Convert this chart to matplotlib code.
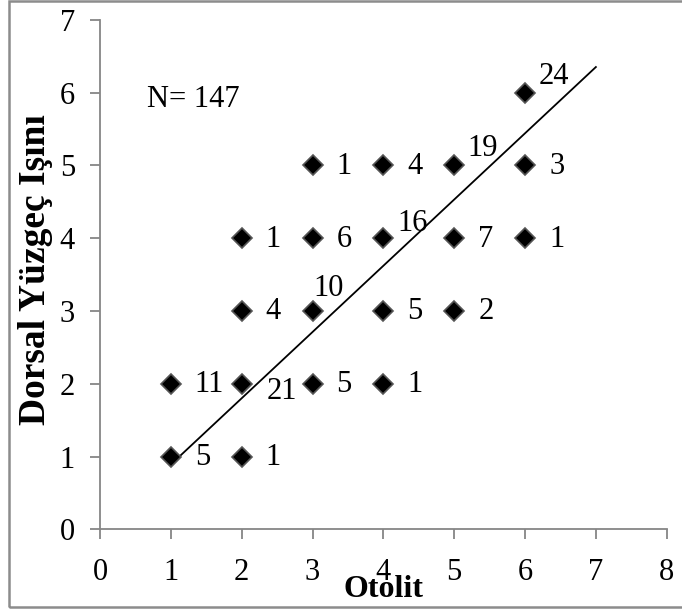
import numpy as np
import matplotlib
matplotlib.use("Agg")
import matplotlib.pyplot as plt
from matplotlib.patches import Rectangle

plt.rcParams['font.family'] = ['Liberation Serif', 'DejaVu Serif']

# otolith age vs dorsal fin ray counts, with number of fish per cell
otolit = [1, 2, 1, 2, 3, 4, 2, 3, 4, 5, 2, 3, 4, 5, 6, 3, 4, 5, 6, 6]
dorsal = [1, 1, 2, 2, 2, 2, 3, 3, 3, 3, 4, 4, 4, 4, 4, 5, 5, 5, 5, 6]
counts = [5, 1, 11, 21, 5, 1, 4, 10, 5, 2, 1, 6, 16, 7, 1, 1, 4, 19, 3, 24]
n_total = 147

# linear trend line
trend_slope = 0.91
trend_intercept = -0.02
trend_x = [1, 7]

# label offsets (pixels) for the counts that sit above/below the default spot
label_shift = {3: (25, -8), 7: (1, 22), 12: (14, 15), 17: (13, 17), 19: (14, 16)}

GRAY = '#868686'

fig = plt.figure(figsize=(6.82, 6.12), dpi=100)
ax = fig.add_axes([0.1466, 0.1351, 0.831, 0.8327])

tx = np.array(trend_x, dtype=float)
ax.plot(tx, trend_slope * tx + trend_intercept, color='black', lw=1.3, zorder=2)

ax.plot(otolit, dorsal, linestyle='none', marker='D', markersize=10,
        markerfacecolor='black', markeredgecolor='#555555', markeredgewidth=1.2,
        zorder=3)

for i, (x, y, c) in enumerate(zip(otolit, dorsal, counts)):
    dx, dy = label_shift.get(i, (24, -1))
    ax.annotate(str(c), (x, y), xytext=(dx, dy), textcoords='offset pixels',
                ha='left', va='center', fontsize=22, zorder=4)

ax.text(0.66, 5.9, 'N= %d' % n_total, ha='left', va='center', fontsize=22)

ax.set_xlim(0, 8)
ax.set_ylim(0, 7)
ax.set_xticks(range(0, 9))
ax.set_yticks(range(0, 8))
ax.tick_params(direction='out', length=7, width=1.3, color=GRAY,
               labelsize=22, pad=11)
ax.tick_params(axis='x', pad=14)

for side in ['top', 'right']:
    ax.spines[side].set_visible(False)
for side in ['left', 'bottom']:
    ax.spines[side].set_color(GRAY)
    ax.spines[side].set_linewidth(1.3)

ax.set_xlabel('Otolit', fontsize=23, fontweight='bold', va='center')
ax.xaxis.set_label_coords(0.5, -0.118)
ax.set_ylabel('Dorsal Yüzgeç Işını', fontsize=27, fontweight='bold', va='center')
ax.yaxis.set_label_coords(-0.113, 0.51)

# thin gray frame around the whole chart
fig.patches.append(Rectangle((9 / 682, 5 / 612), 1.0, 1 - 6 / 612,
                             transform=fig.transFigure, fill=False,
                             edgecolor='#8c8c8c', lw=1.8, clip_on=False))

fig.savefig('out.png', dpi=100)
